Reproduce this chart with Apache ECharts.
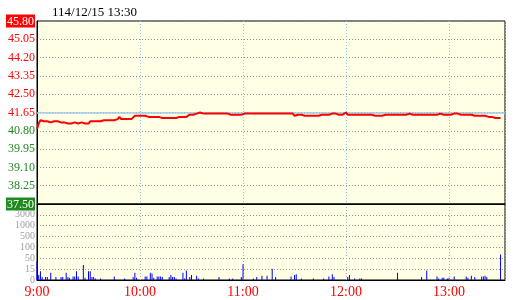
<!DOCTYPE html>
<html>
<head>
<meta charset="utf-8">
<script src="https://cdn.jsdelivr.net/npm/echarts@6/dist/echarts.min.js"></script>
<style>html,body{margin:0;padding:0;background:#fff;}#c{width:520px;height:300px;}</style>
</head>
<body>
<div id="c"></div>
<script>
const titleText = '114/12/15 13:30';
const prevClose = 41.65;
const priceMin = 37.50;
const priceMax = 45.80;
const priceTicks = ['37.50','38.25','39.10','39.95','40.80','41.65','42.50','43.35','44.20','45.05','45.80'];
const volTicks = ['0','15','50','100','500','1000','3000',''];
const volBreaks = [0,15,50,100,500,1000,3000,5000];
const hourLabels = ['9:00','10:00','11:00','12:00','13:00'];

// one price per minute, 9:00 .. 13:30
const prices = [
40.90,41.15,41.30,41.25,41.25,41.25,41.25,41.20,41.20,41.25,
41.25,41.25,41.25,41.25,41.20,41.20,41.20,41.20,41.15,41.20,
41.15,41.15,41.20,41.15,41.15,41.15,41.20,41.15,41.15,41.15,
41.15,41.25,41.25,41.25,41.25,41.25,41.25,41.25,41.30,41.30,
41.30,41.30,41.30,41.30,41.30,41.30,41.35,41.35,41.45,41.35,
41.35,41.35,41.35,41.35,41.35,41.35,41.35,41.50,41.50,41.50,
41.50,41.50,41.50,41.50,41.45,41.45,41.45,41.45,41.45,41.45,
41.45,41.45,41.45,41.40,41.40,41.40,41.40,41.40,41.40,41.40,
41.40,41.40,41.45,41.45,41.45,41.45,41.45,41.45,41.50,41.55,
41.55,41.55,41.60,41.60,41.60,41.65,41.65,41.60,41.60,41.60,
41.60,41.60,41.60,41.60,41.60,41.60,41.60,41.60,41.60,41.60,
41.60,41.60,41.60,41.55,41.60,41.55,41.55,41.55,41.55,41.55,
41.60,41.60,41.60,41.60,41.60,41.60,41.60,41.60,41.60,41.60,
41.60,41.60,41.60,41.60,41.60,41.60,41.60,41.60,41.60,41.60,
41.60,41.60,41.60,41.60,41.60,41.60,41.60,41.60,41.60,41.60,
41.50,41.55,41.55,41.55,41.55,41.50,41.50,41.50,41.50,41.50,
41.50,41.50,41.50,41.50,41.50,41.55,41.55,41.55,41.55,41.50,
41.55,41.55,41.60,41.60,41.60,41.60,41.55,41.55,41.55,41.55,
41.65,41.55,41.55,41.55,41.55,41.55,41.55,41.55,41.55,41.55,
41.55,41.55,41.55,41.55,41.55,41.55,41.55,41.50,41.50,41.50,
41.50,41.50,41.55,41.55,41.55,41.55,41.55,41.55,41.55,41.55,
41.55,41.55,41.60,41.55,41.55,41.55,41.60,41.60,41.55,41.55,
41.55,41.55,41.55,41.55,41.55,41.55,41.55,41.55,41.55,41.55,
41.55,41.55,41.55,41.55,41.55,41.60,41.55,41.55,41.55,41.55,
41.55,41.55,41.60,41.60,41.55,41.60,41.60,41.55,41.60,41.55,
41.55,41.55,41.50,41.55,41.55,41.50,41.50,41.50,41.50,41.50,
41.45,41.50,41.50,41.45,41.45,41.45,41.45,41.40,41.40,41.40,
41.40
];

// one volume per minute, 9:00 .. 13:30
const volumes = [
40,7,12,4,0,4,4,0,10,0,
0,4,0,0,4,4,0,10,4,3,
0,5,5,12,5,0,0,28,3,0,
12,12,4,4,2,0,0,2,0,0,
0,0,0,0,0,5,0,0,0,0,
0,2,0,0,0,0,4,10,3,0,
0,0,0,5,5,0,10,9,3,0,
5,5,5,4,0,0,0,4,7,4,
4,2,0,0,0,10,2,13,0,4,
7,0,0,6,2,0,0,2,0,0,
0,0,0,0,0,0,4,0,0,0,
0,0,2,0,2,0,0,0,0,4,
31,0,0,0,0,0,2,0,4,0,
0,6,0,0,6,0,0,16,0,4,
0,0,0,0,0,0,0,0,5,0,
7,8,0,0,2,0,0,0,0,0,
0,2,0,0,0,0,0,2,0,0,
5,0,8,4,0,0,0,0,0,0,
0,4,7,0,0,2,0,0,2,2,
0,0,0,0,0,0,0,0,0,0,
0,0,0,0,0,0,0,0,0,0,
10,0,0,0,0,0,0,0,0,0,
0,0,0,0,4,0,0,13,0,0,
0,0,0,5,2,0,3,3,0,2,
3,0,0,5,0,0,0,0,0,0,
5,3,0,6,0,4,0,0,0,5,
5,6,4,0,0,0,0,0,0,0,
67
];

function volIndex(v) {
  for (let i = 0; i < volBreaks.length - 1; i++) {
    if (v < volBreaks[i + 1]) return i + (v - volBreaks[i]) / (volBreaks[i + 1] - volBreaks[i]);
  }
  return volBreaks.length - 1;
}

const priceData = prices.map((p, m) => [m, p]);
const volData = volumes.map((v, m) => [m, volIndex(v)]).filter(d => d[1] > 0);

const FONT = 'Liberation Serif';
const xMax = 272.6;
const xFmt = v => (v % 60 === 0 && v / 60 < hourLabels.length) ? hourLabels[v / 60] : '';

const chart = echarts.init(document.getElementById('c'), null, {renderer: 'canvas'});
chart.setOption({
  animation: false,
  backgroundColor: '#ffffff',
  title: {
    text: titleText, left: 47, top: 1,
    textStyle: {fontFamily: FONT, fontSize: 13, fontWeight: 'normal', color: '#000'}
  },
  grid: [
    {left: 37, top: 21, width: 468, height: 183, show: true, backgroundColor: '#ffffe6', borderColor: '#000', borderWidth: 1},
    {left: 37, top: 204, width: 468, height: 76, show: true, backgroundColor: '#ffffe6', borderColor: '#000', borderWidth: 1}
  ],
  xAxis: [
    {type: 'value', gridIndex: 0, min: 0, max: xMax, interval: 60,
     axisLine: {show: true, onZero: false, lineStyle: {color: '#000', width: 1}},
     axisTick: {show: false}, axisLabel: {show: false},
     splitLine: {show: true, lineStyle: {color: '#8fc3e8', type: [1, 2], width: 1}}},
    {type: 'value', gridIndex: 1, min: 0, max: xMax, interval: 60,
     axisLine: {show: true, onZero: false, lineStyle: {color: '#000', width: 1}},
     axisTick: {show: false},
     axisLabel: {show: true, formatter: xFmt, color: '#ff0000', fontFamily: FONT, fontSize: 14, margin: 5, showMaxLabel: false},
     splitLine: {show: true, lineStyle: {color: '#9fb4c4', type: [1, 2], width: 1}}}
  ],
  yAxis: [
    {type: 'value', gridIndex: 0, min: 0, max: 10, interval: 1,
     axisLine: {show: true, lineStyle: {color: '#000', width: 1}},
     axisTick: {show: false},
     axisLabel: {
       margin: 2, fontFamily: FONT, fontSize: 12,
       formatter: v => {
         const i = Math.round(v); const t = priceTicks[i];
         if (i === priceTicks.length - 1) return '{up|' + t + '}';
         if (i === 0) return '{dn|' + t + '}';
         return i >= 5 ? '{r|' + t + '}' : '{g|' + t + '}';
       },
       rich: {
         up: {color: '#fff', backgroundColor: '#ff0000', fontFamily: FONT, fontSize: 12, padding: [1, 1, 0, 1]},
         dn: {color: '#fff', backgroundColor: '#1f8a1f', fontFamily: FONT, fontSize: 12, padding: [1, 1, 0, 1]},
         r: {color: '#ff0000', fontFamily: FONT, fontSize: 12},
         g: {color: '#1f8a1f', fontFamily: FONT, fontSize: 12}
       }
     },
     splitLine: {show: true, lineStyle: {color: '#909090', type: [1, 2], width: 1}}},
    {type: 'value', gridIndex: 0, min: priceMin, max: priceMax, show: false, splitLine: {show: false}},
    {type: 'value', gridIndex: 1, min: 0, max: 7, interval: 1,
     axisLine: {show: true, lineStyle: {color: '#000', width: 1}},
     axisTick: {show: false},
     axisLabel: {margin: 2, fontFamily: FONT, fontSize: 10, color: '#a0a0a0',
                 formatter: v => volTicks[Math.round(v)] || ''},
     splitLine: {show: true, lineStyle: {color: '#909090', type: [1, 2], width: 1}}}
  ],
  series: [
    {type: 'bar', xAxisIndex: 1, yAxisIndex: 2, data: volData, barWidth: 1,
     itemStyle: {color: '#0000ff'}, silent: true},
    {type: 'line', xAxisIndex: 0, yAxisIndex: 1, data: priceData, symbol: 'none',
     lineStyle: {color: '#ff0000', width: 2}, silent: true, z: 3,
     markLine: {silent: true, symbol: 'none', label: {show: false},
                lineStyle: {color: '#9ecbe8', type: 'solid', width: 1.5},
                data: [{yAxis: prevClose}], z: 2}}
  ]
});
</script>
</body>
</html>
